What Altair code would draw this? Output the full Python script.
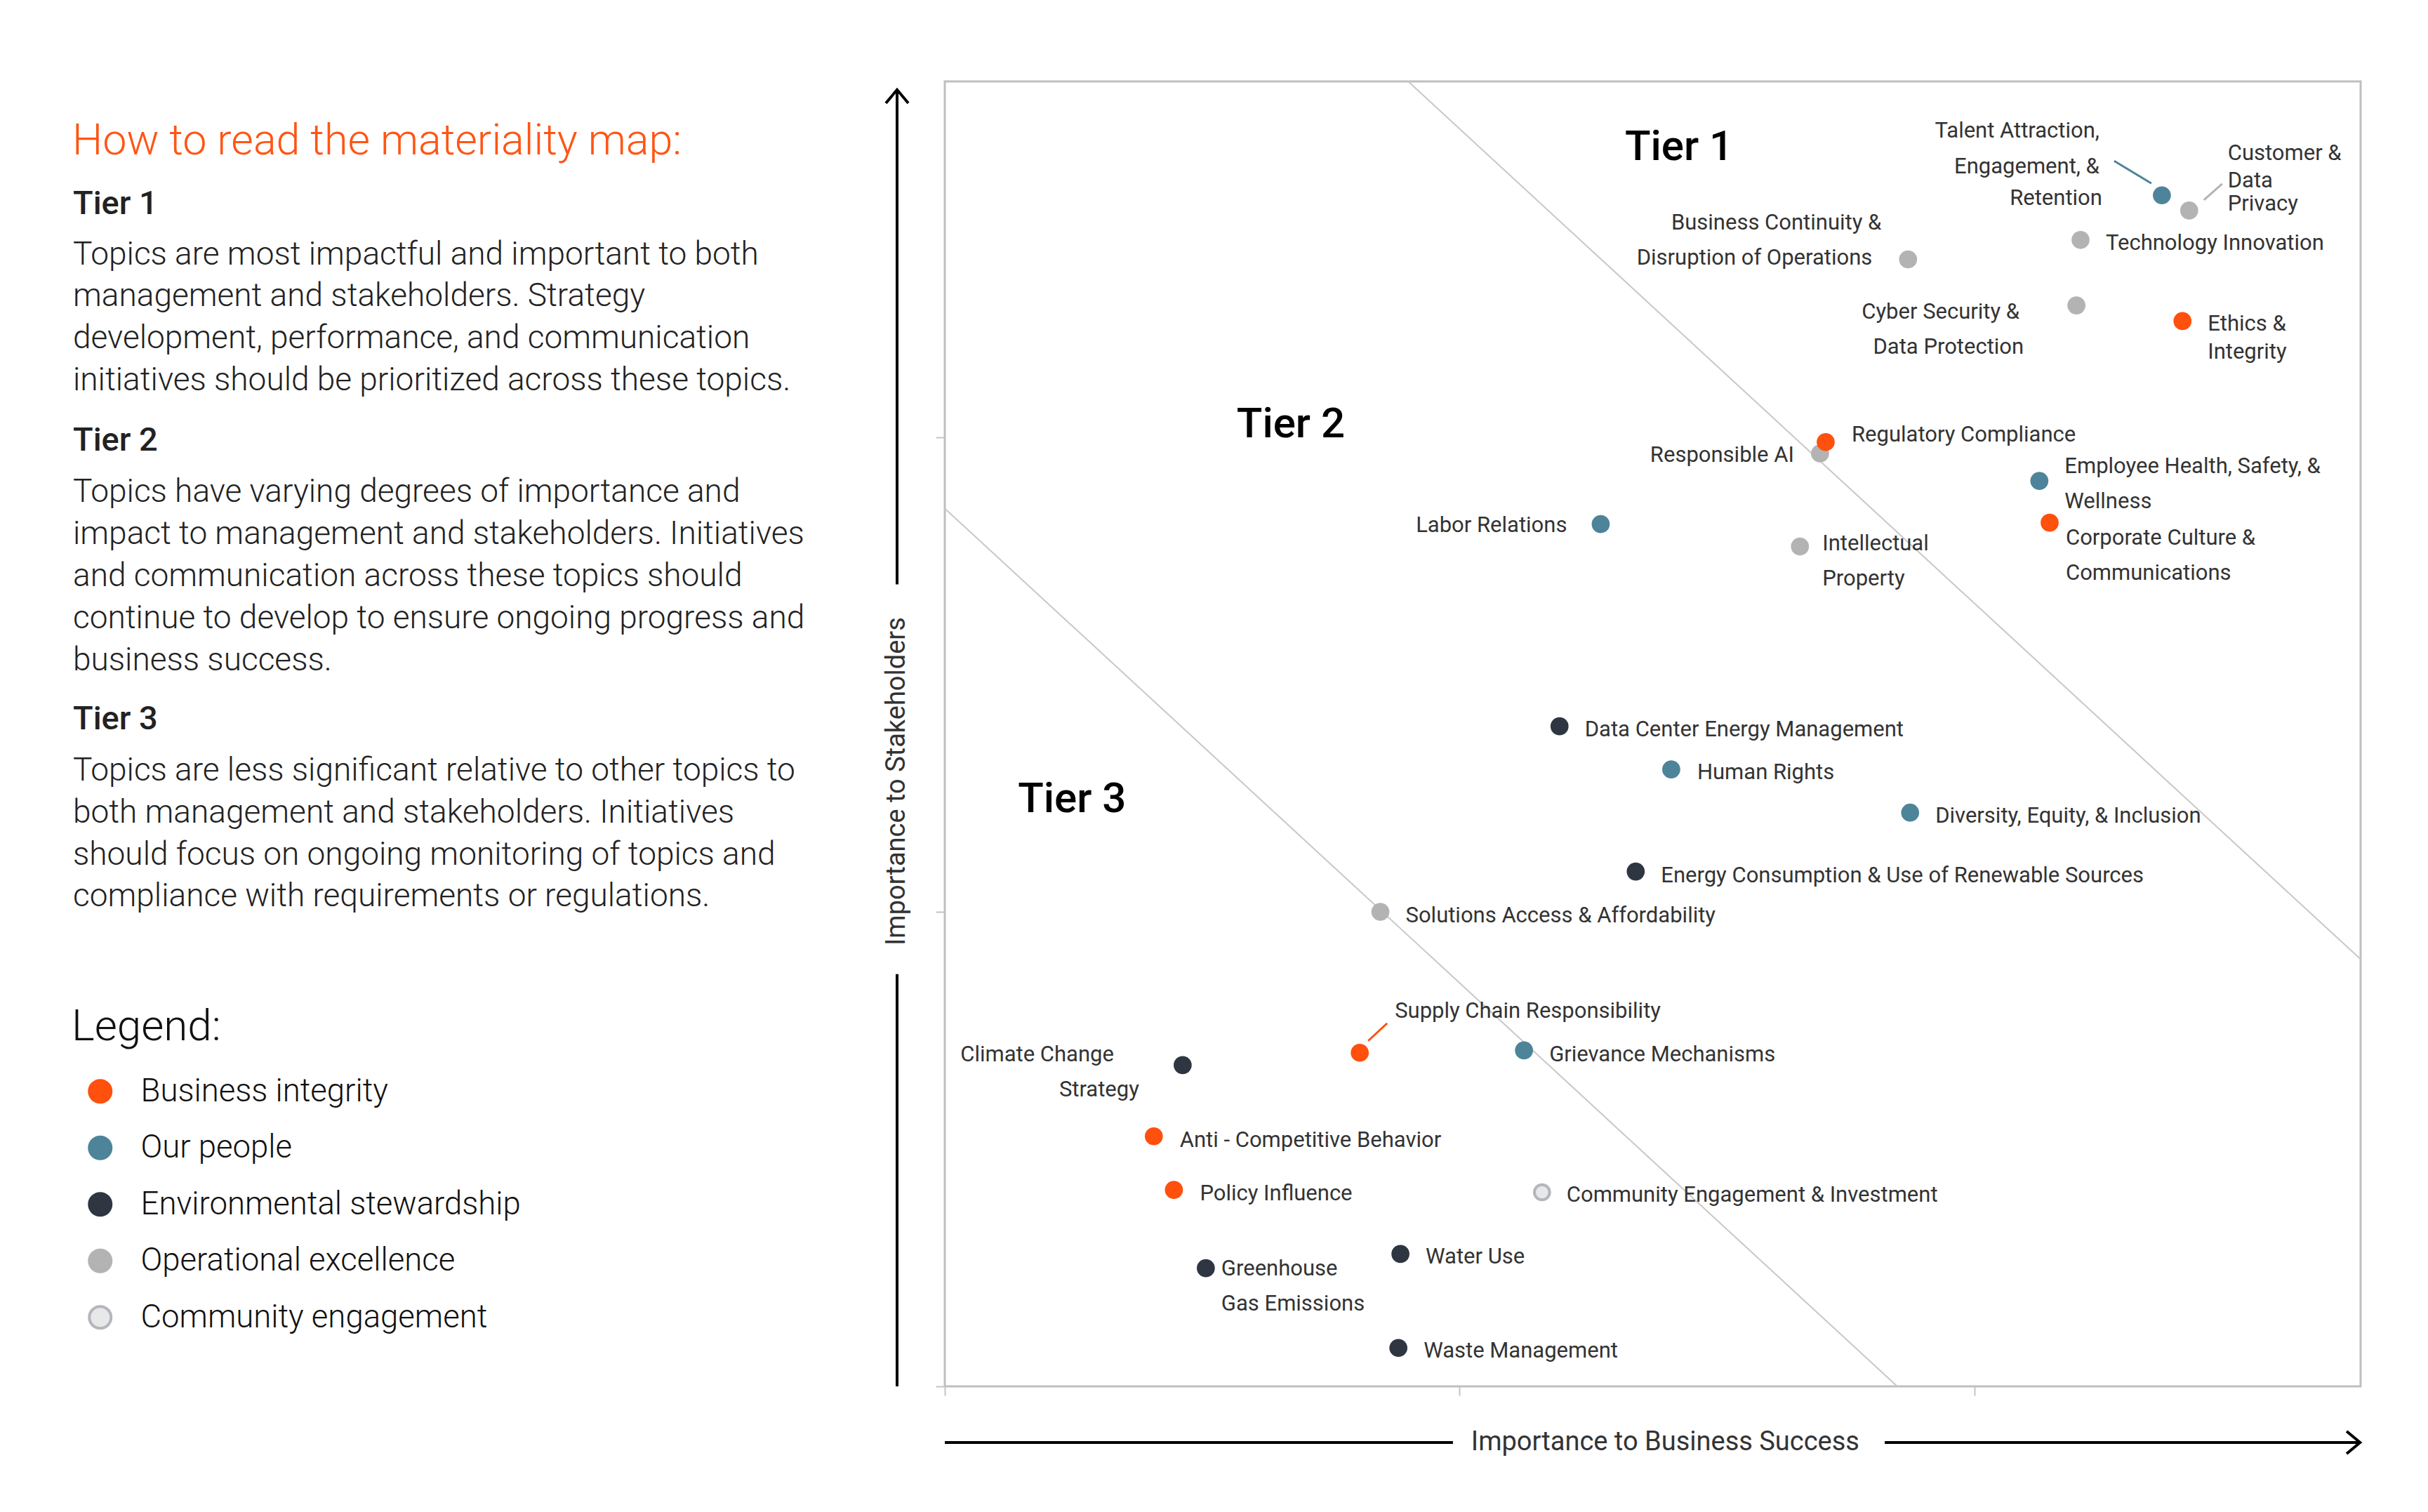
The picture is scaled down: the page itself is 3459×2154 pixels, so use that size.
import altair as alt
import pandas as pd

# ---------------- data ----------------
topics = [
    "Talent Attraction, Engagement, & Retention",
    "Customer & Data Privacy",
    "Technology Innovation",
    "Business Continuity & Disruption of Operations",
    "Cyber Security & Data Protection",
    "Ethics & Integrity",
    "Responsible AI",
    "Regulatory Compliance",
    "Employee Health, Safety, & Wellness",
    "Corporate Culture & Communications",
    "Intellectual Property",
    "Labor Relations",
    "Data Center Energy Management",
    "Human Rights",
    "Diversity, Equity, & Inclusion",
    "Energy Consumption & Use of Renewable Sources",
    "Solutions Access & Affordability",
    "Supply Chain Responsibility",
    "Grievance Mechanisms",
    "Climate Change Strategy",
    "Anti - Competitive Behavior",
    "Policy Influence",
    "Community Engagement & Investment",
    "Greenhouse Gas Emissions",
    "Water Use",
    "Waste Management",
]
pillars = [
    "Our people", "Operational excellence", "Operational excellence",
    "Operational excellence", "Operational excellence", "Business integrity",
    "Operational excellence", "Business integrity", "Our people",
    "Business integrity", "Operational excellence", "Our people",
    "Environmental stewardship", "Our people", "Our people",
    "Environmental stewardship", "Operational excellence", "Business integrity",
    "Our people", "Environmental stewardship", "Business integrity",
    "Business integrity", "Community engagement", "Environmental stewardship",
    "Environmental stewardship", "Environmental stewardship",
]
business_success = [2.364, 2.417, 2.206, 1.871, 2.198, 2.404, 1.700, 1.711,
                    2.126, 2.146, 1.661, 1.274, 1.194, 1.411, 1.875, 1.342,
                    0.846, 0.806, 1.125, 0.462, 0.406, 0.445, 1.160, 0.507,
                    0.885, 0.881]
stakeholders = [2.510, 2.478, 2.416, 2.375, 2.278, 2.245, 1.966, 1.990,
                1.908, 1.820, 1.770, 1.817, 1.391, 1.300, 1.209, 1.085,
                1.000, 0.703, 0.708, 0.677, 0.527, 0.414, 0.409, 0.249,
                0.279, 0.081]
label_lines = [
    ["Talent Attraction,", "Engagement, &", "Retention"],
    ["Customer &", "Data", "Privacy"],
    ["Technology Innovation"],
    ["Business Continuity &", "Disruption of Operations"],
    ["Cyber Security &", "Data Protection"],
    ["Ethics &", "Integrity"],
    ["Responsible AI"],
    ["Regulatory Compliance"],
    ["Employee Health, Safety, &", "Wellness"],
    ["Corporate Culture &", "Communications"],
    ["Intellectual", "Property"],
    ["Labor Relations"],
    ["Data Center Energy Management"],
    ["Human Rights"],
    ["Diversity, Equity, & Inclusion"],
    ["Energy Consumption & Use of Renewable Sources"],
    ["Solutions Access & Affordability"],
    ["Supply Chain Responsibility"],
    ["Grievance Mechanisms"],
    ["Climate Change", "Strategy"],
    ["Anti - Competitive Behavior"],
    ["Policy Influence"],
    ["Community Engagement & Investment"],
    ["Greenhouse", "Gas Emissions"],
    ["Water Use"],
    ["Waste Management"],
]
pillar_order = ["Business integrity", "Our people", "Environmental stewardship",
                "Operational excellence", "Community engagement"]
pillar_fill = ["#FF500D", "#4E8499", "#2E3642", "#B3B3B3", "#E8E8E8"]
pillar_stroke = ["#FF500D", "#4E8499", "#2E3642", "#B3B3B3", "#B3B6BC"]

# tier boundaries (x + y = const) and tier names
boundary_x1 = [0.90, 0.00]
boundary_y1 = [2.75, 1.85]
boundary_x2 = [2.75, 1.85]
boundary_y2 = [0.90, 0.00]
tier_names = ["Tier 1", "Tier 2", "Tier 3"]
tier_x = [1.321, 0.567, 0.142]
tier_y = [2.584, 2.000, 1.210]

x_title = "Importance to Business Success"
y_title = "Importance to Stakeholders"
panel_title = "How to read the materiality map:"
tier_headings = ["Tier 1", "Tier 2", "Tier 3"]
tier_texts = [
    "Topics are most impactful and important to both\nmanagement and stakeholders. Strategy\n"
    "development, performance, and communication\ninitiatives should be prioritized across these topics.",
    "Topics have varying degrees of importance and\nimpact to management and stakeholders. Initiatives\n"
    "and communication across these topics should\ncontinue to develop to ensure ongoing progress and\n"
    "business success.",
    "Topics are less significant relative to other topics to\nboth management and stakeholders. Initiatives\n"
    "should focus on ongoing monitoring of topics and\ncompliance with requirements or regulations.",
]

# ---------------- layout (pixels) ----------------
PLOT_W, PLOT_H, DOM = 2017, 1859, 2.75
PXX, PXY = PLOT_W / DOM, PLOT_H / DOM
label_layout = [
    [(-89, -82, "right"), (-89, -31, "right"), (-85, 14, "right")],
    [(55, -72, "left"), (55, -33, "left"), (55, 0, "left")],
    [(36, 14, "left")],
    [(-38, -43, "right"), (-51, 7, "right")],
    [(-81, 19, "right"), (-75, 69, "right")],
    [(36, 14, "left"), (36, 54, "left")],
    [(-37, 12, "right")],
    [(37, -1, "left")],
    [(36, -11, "left"), (36, 39, "left")],
    [(23, 31, "left"), (23, 81, "left")],
    [(32, 6, "left"), (32, 56, "left")],
    [(-48, 11, "right")],
    [(36, 14, "left")],
    [(37, 14, "left")],
    [(36, 14, "left")],
    [(36, 15, "left")],
    [(36, 15, "left")],
    [(50, -50, "left")],
    [(36, 16, "left")],
    [(-98, -5, "right"), (-62, 45, "right")],
    [(37, 15, "left")],
    [(37, 15, "left")],
    [(35, 13, "left")],
    [(22, 10, "left"), (22, 60, "left")],
    [(36, 14, "left")],
    [(36, 14, "left")],
]
connectors = [(0, -68, -49, -15, -17, "#4E8499"),
              (1, 21, -15, 47, -38, "#B3B3B3"),
              (17, 12, -17, 39, -42, "#FF500D")]
FONT = "Roboto"

# ---------------- tables ----------------
points_df = pd.DataFrame({"topic": topics, "pillar": pillars,
                          "x": business_success, "y": stakeholders})
rows = []
for i, lines in enumerate(label_lines):
    for j, t in enumerate(lines):
        dx, dy, al = label_layout[i][j]
        rows.append({"t": t, "al": al,
                     "x": business_success[i] + dx / PXX,
                     "y": stakeholders[i] - dy / PXY})
labels_df = pd.DataFrame(rows)
conn_df = pd.DataFrame([{
    "x": business_success[i] + a / PXX, "y": stakeholders[i] - b / PXY,
    "x2": business_success[i] + c / PXX, "y2": stakeholders[i] - d / PXY,
    "c": col} for i, a, b, c, d, col in connectors])
bound_df = pd.DataFrame({"x": boundary_x1, "y": boundary_y1,
                         "x2": boundary_x2, "y2": boundary_y2})
tier_df = pd.DataFrame({"t": tier_names, "x": tier_x, "y": tier_y})

xscale = alt.Scale(domain=[0, DOM], nice=False, zero=False)
yscale = alt.Scale(domain=[0, DOM], nice=False, zero=False)
axis = alt.Axis(values=[0, 1, 2], labels=False, ticks=True, tickSize=13,
                tickWidth=2, tickColor="#C4C4C4", domain=False, grid=False,
                title=None)


def X(f):
    return alt.X(f"{f}:Q", scale=xscale, axis=axis, title=None)


def Y(f):
    return alt.Y(f"{f}:Q", scale=yscale, axis=axis, title=None)


boundaries = alt.Chart(bound_df).mark_rule(color="#C8C8C8", strokeWidth=2).encode(
    x=X("x"), y=Y("y"), x2="x2:Q", y2="y2:Q")
conn = alt.Chart(conn_df).mark_rule(strokeWidth=3).encode(
    x=X("x"), y=Y("y"), x2="x2:Q", y2="y2:Q", color=alt.Color("c:N", scale=None))

legend = alt.Legend(
    title="Legend:", orient="none", legendX=-1244, legendY=1317,
    direction="vertical", padding=0,
    titleFont=FONT, titleFontSize=62, titleFontWeight=300, titleColor="#111111",
    titleBaseline="top", titlePadding=37, titleLimit=2000,
    labelFont=FONT, labelFontSize=45.5, labelFontWeight=300, labelColor="#111111",
    labelLimit=2000, labelOffset=35, symbolType="circle", symbolSize=962,
    symbolStrokeWidth=4, symbolOffset=18, rowPadding=32.5)

points = alt.Chart(points_df).mark_circle(size=471, strokeWidth=4, opacity=1).encode(
    x=X("x"), y=Y("y"),
    fill=alt.Fill("pillar:N", scale=alt.Scale(domain=pillar_order, range=pillar_fill),
                  legend=legend),
    stroke=alt.Stroke("pillar:N", scale=alt.Scale(domain=pillar_order, range=pillar_stroke),
                      legend=legend),
    tooltip=["topic:N", "pillar:N"])


def label_layer(al):
    return alt.Chart(labels_df[labels_df["al"] == al]).mark_text(
        align=al, baseline="alphabetic", font=FONT, fontSize=31, color="#333333"
    ).encode(x=X("x"), y=Y("y"), text="t:N")


tiers = alt.Chart(tier_df).mark_text(
    align="left", baseline="alphabetic", font=FONT, fontSize=60, fontWeight=500,
    color="#000000").encode(x=X("x"), y=Y("y"), text="t:N")

# axis arrows and titles
xa_df = pd.DataFrame({"x": [0.0, 1.8257], "x2": [0.987, 2.749]})
xarrow = alt.Chart(xa_df).mark_rule(color="#000000", strokeWidth=4).encode(
    x=X("x"), x2="x2:Q", y=alt.value(PLOT_H + 80))
xhead = alt.Chart(pd.DataFrame({"x": [2.749]})).mark_point(
    shape="M-1.2,-1L0,0L-1.2,1", filled=False, color="#000000", strokeWidth=4,
    size=1024, opacity=1).encode(x=X("x"), y=alt.value(PLOT_H + 80))
xt = alt.Chart(pd.DataFrame({"x": [1.3994], "t": [x_title]})).mark_text(
    align="center", baseline="middle", font=FONT, fontSize=38, color="#333333"
).encode(x=X("x"), y=alt.value(PLOT_H + 80), text="t:N")

ya_df = pd.DataFrame({"y": [0.0, 1.690], "y2": [0.8686, 2.7325]})
yarrow = alt.Chart(ya_df).mark_rule(color="#000000", strokeWidth=4).encode(
    y=Y("y"), y2="y2:Q", x=alt.value(-68))
yhead = alt.Chart(pd.DataFrame({"y": [2.7325]})).mark_point(
    shape="M-1,1.2L0,0L1,1.2", filled=False, color="#000000", strokeWidth=4,
    size=1024, opacity=1).encode(y=Y("y"), x=alt.value(-68))
yt = alt.Chart(pd.DataFrame({"y": [1.275], "t": [y_title]})).mark_text(
    align="center", baseline="middle", angle=270, font=FONT, fontSize=38,
    color="#333333").encode(y=Y("y"), x=alt.value(-68), text="t:N")


# left explanatory panel
def block(text, ypx, size, weight, color, xpx=-1244):
    return alt.Chart(pd.DataFrame({"t": [text]})).mark_text(
        align="left", baseline="alphabetic", font=FONT, fontSize=size,
        fontWeight=weight, color=color, lineBreak="\n", lineHeight=59.8
    ).encode(x=alt.value(xpx), y=alt.value(ypx), text="t:N")


panel = [block(panel_title, 103.6, 61, 300, "#FF5514", -1243)]
for h, body, yh, yb in zip(tier_headings, tier_texts, [189, 526, 923],
                           [260.6, 599.4, 996]):
    panel.append(block(h, yh, 47, 500, "#222222", -1242))
    panel.append(block(body, yb, 46, 300, "#222222", -1242))

chart = alt.layer(
    boundaries, conn, points, label_layer("left"), label_layer("right"), tiers,
    xarrow, xhead, xt, yarrow, yhead, yt, *panel
).properties(
    width=PLOT_W, height=PLOT_H,
    padding={"left": 1338, "top": 108, "right": 80, "bottom": 150},
    autosize=alt.AutoSizeParams(type="none"),
    background="#FFFFFF",
).configure_view(stroke="#BFBFBF", strokeWidth=3)

chart.save("out.html", embed_options={"renderer": "svg", "actions": False})
